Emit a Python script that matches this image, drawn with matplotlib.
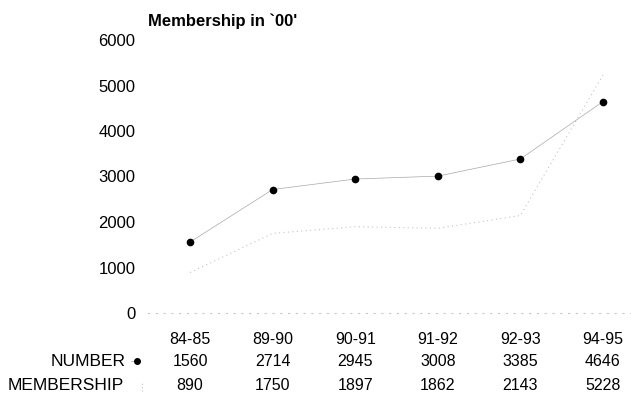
import matplotlib
matplotlib.use('Agg')
import matplotlib.pyplot as plt
from matplotlib.lines import Line2D

plt.rcParams['font.family'] = ['Liberation Sans', 'DejaVu Sans']

# data
years      = ['84-85', '89-90', '90-91', '91-92', '92-93', '94-95']
number     = [1560, 2714, 2945, 3008, 3385, 4646]
membership = [890, 1750, 1897, 1862, 2143, 5228]
yticks     = [0, 1000, 2000, 3000, 4000, 5000, 6000]

W, H = 631, 401
fig = plt.figure(figsize=(W/100, H/100), dpi=100)
ax = fig.add_axes([148/W, 88/H, 1 - 148/W, 273/H])

x = list(range(len(years)))
ax.plot(x, membership, color='#c4c4c4', lw=0.8, ls=(0, (1, 3)))
ax.plot(x, number, color='#a8a8a8', lw=0.5, marker='o', ms=4.5,
        mfc='black', mec='black')

ax.set_xlim(-0.51, 5.34)
ax.set_ylim(0, 6000)
ax.set_yticks(yticks)
ax.set_yticklabels([str(v) for v in yticks], fontsize=12)
ax.tick_params(axis='y', length=0, pad=9)
ax.set_xticks([])
for s in ['top', 'right']:
    ax.spines[s].set_visible(False)
ax.spines['left'].set_visible(False)
ax.spines['bottom'].set_color('#c8c8c8')
ax.spines['bottom'].set_linestyle((0, (1, 6)))
ax.spines['bottom'].set_linewidth(0.8)

# title
fig.text(148/W, 1 - 21/H, "Membership in `00'", fontsize=12,
         fontweight='bold', ha='left', va='center')

# data table under the plot
rows_y = [1 - 339/H, 1 - 361/H, 1 - 386/H]
tr = ax.get_xaxis_transform()
for i, lab in enumerate(years):
    ax.text(i, (rows_y[0] - 88/H) * H / 273, lab, transform=tr,
            ha='center', va='center', fontsize=11.5, clip_on=False)
    ax.text(i, (rows_y[1] - 88/H) * H / 273, str(number[i]), transform=tr,
            ha='center', va='center', fontsize=11.5, clip_on=False)
    ax.text(i, (rows_y[2] - 88/H) * H / 273, str(membership[i]), transform=tr,
            ha='center', va='center', fontsize=11.5, clip_on=False)

fig.text(126/W, rows_y[1], 'NUMBER', ha='right', va='center', fontsize=12.5)
fig.text(124/W, rows_y[2], 'MEMBERSHIP', ha='right', va='center', fontsize=12.5)

# legend keys next to row labels
fig.add_artist(Line2D([131/W, 140/W], [rows_y[1], rows_y[1]],
                      color='#a8a8a8', lw=0.5))
fig.add_artist(Line2D([137/W], [rows_y[1]], marker='o', ms=4,
                      color='black', ls='none'))
fig.add_artist(Line2D([142/W, 142/W], [rows_y[2] - 5/H, rows_y[2] + 5/H],
                      color='#c4c4c4', lw=0.8, ls=(0, (1, 2))))

fig.savefig('out.png', dpi=100)
